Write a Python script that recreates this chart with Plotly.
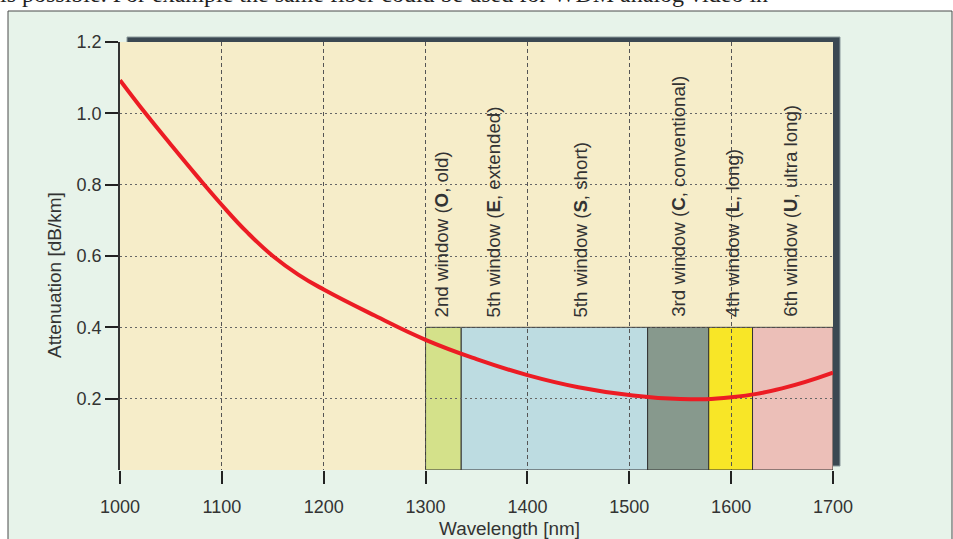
import plotly.graph_objects as go

# ---- data ----
wavelength = [1000, 1025, 1050, 1075, 1100, 1125, 1150, 1175, 1200, 1250, 1300, 1350,
              1400, 1450, 1500, 1550, 1600, 1650, 1700]
attenuation = [1.093, 1.0, 0.912, 0.826, 0.743, 0.666, 0.600, 0.548, 0.506, 0.433, 0.365, 0.311,
               0.266, 0.232, 0.210, 0.199, 0.204, 0.229, 0.273]

band_start = [1300, 1335, 1518, 1578, 1621]
band_end = [1335, 1518, 1578, 1621, 1700]
band_top = 0.4
band_colors = ["#d4e18a", "#bddce1", "#87998d", "#f8e627", "#ecbfb8"]

label_texts = ["2nd window (<b>O</b>, old)", "5th window (<b>E</b>, extended)",
               "5th window (<b>S</b>, short)", "3rd window (<b>C</b>, conventional)",
               "4th window (<b>L</b>, long)", "6th window (<b>U</b>, ultra long)"]
label_x = [1315.5, 1367, 1452, 1548, 1601, 1657.5]

x_ticks = [1000, 1100, 1200, 1300, 1400, 1500, 1600, 1700]
y_ticks = [0.2, 0.4, 0.6, 0.8, 1.0, 1.2]
y_ticklabels = ["0.2", "0.4", "0.6", "0.8", "1.0", "1.2"]

x_title = "Wavelength [nm]"
y_title = "Attenuation [dB/km]"
page_text = "is possible. For example the same fiber could be used for WDM analog video in"

# ---- geometry helpers (pixel -> paper) ----
L, R, T, B = 120, 120, 42, 69
W, H = 953, 539
PW, PH = W - L - R, H - T - B
def px(x):
    return (x - L) / PW
def py(y):
    return (H - B - y) / PH

FONT = "Liberation Sans, Arial, sans-serif"
TXT = "#333333"

fig = go.Figure()
fig.add_trace(go.Scatter(x=wavelength, y=attenuation, mode="lines",
                         line=dict(color="#ec1c24", width=4, shape="spline", smoothing=1.3),
                         hoverinfo="skip", showlegend=False))

shapes = []
# outer frame (light green)
shapes.append(dict(type="rect", xref="paper", yref="paper", x0=px(8), x1=px(952), y0=py(560), y1=py(11),
                   fillcolor="#e7f3ea", line=dict(color="#4a4a4a", width=1), layer="below"))
# drop shadow
shapes.append(dict(type="rect", xref="paper", yref="paper", x0=px(127), x1=px(840), y0=py(466), y1=py(37),
                   fillcolor="#3b4852", line=dict(color="#8c9a9c", width=1), layer="below"))
# plot area background
shapes.append(dict(type="rect", xref="x", yref="y", x0=1000, x1=1700, y0=0, y1=1.2,
                   fillcolor="#f6edc9", line=dict(width=0), layer="below"))
# wavelength bands
for s, e, c in zip(band_start, band_end, band_colors):
    shapes.append(dict(type="rect", xref="x", yref="y", x0=s, x1=e, y0=0, y1=band_top,
                       fillcolor=c, line=dict(color="#333333", width=1), layer="below"))

annotations = []
for t, x in zip(label_texts, label_x):
    annotations.append(dict(x=x, y=0.423, xref="x", yref="y", text=t, textangle=-90,
                            showarrow=False, xanchor="center", yanchor="bottom",
                            font=dict(family=FONT, size=18.7, color=TXT)))
# axis titles
annotations.append(dict(x=px(509), y=py(528), xref="paper", yref="paper", text=x_title,
                        showarrow=False, xanchor="center", yanchor="middle",
                        font=dict(family=FONT, size=18.9, color=TXT)))
annotations.append(dict(x=px(54), y=py(275), xref="paper", yref="paper", text=y_title, textangle=-90,
                        showarrow=False, xanchor="center", yanchor="middle",
                        font=dict(family=FONT, size=19, color=TXT)))
# fragment of the surrounding page text
annotations.append(dict(x=px(-2), y=py(9), xref="paper", yref="paper", text=page_text,
                        showarrow=False, xanchor="left", yanchor="bottom",
                        font=dict(family="Liberation Serif, Times New Roman, serif", size=24, color="#222222")))

fig.update_layout(
    width=W, height=H,
    margin=dict(l=L, r=R, t=T, b=B, pad=0),
    paper_bgcolor="#ffffff",
    plot_bgcolor="rgba(0,0,0,0)",
    shapes=shapes,
    annotations=annotations,
    showlegend=False,
    xaxis=dict(range=[1000, 1700], tickvals=x_ticks, ticks="outside", ticklen=13, tickwidth=2,
               tickcolor="#222222", showline=False, zeroline=False, automargin=False,
               showgrid=True, gridcolor="#555555", gridwidth=1, griddash="4px,3px",
               tickfont=dict(family=FONT, size=18, color=TXT), ticklabelstandoff=7),
    yaxis=dict(range=[0, 1.2], tickvals=y_ticks, ticktext=y_ticklabels, ticks="outside", ticklen=13,
               tickwidth=2, tickcolor="#222222", showline=True, linecolor="#333333", linewidth=1.5,
               zeroline=False, showgrid=True, gridcolor="#666666", gridwidth=1, griddash="2px,3px",
               automargin=False,
               tickfont=dict(family=FONT, size=18, color=TXT)),
)

fig.write_html("out.html", config={"displayModeBar": False},
               post_script="document.body.style.margin='0';document.body.style.overflow='hidden';")
